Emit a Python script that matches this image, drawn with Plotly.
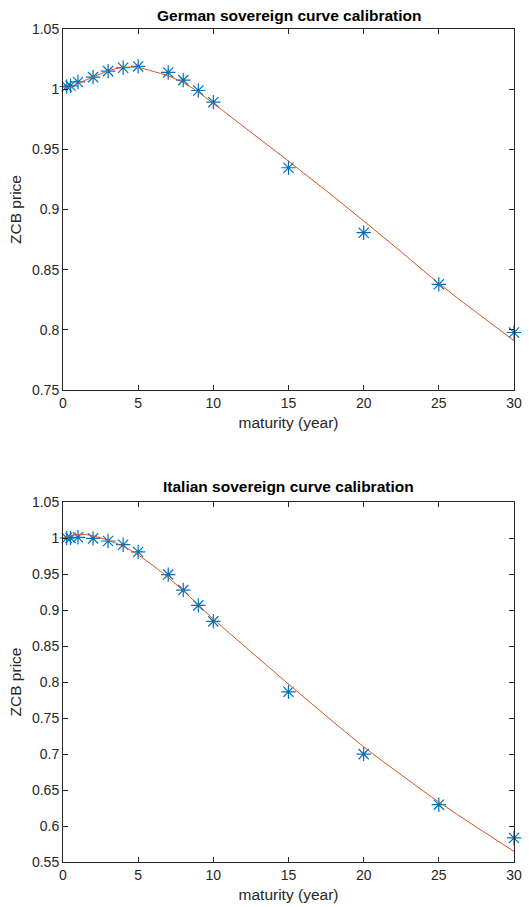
import plotly.graph_objects as go

# ---------------- data ----------------
maturities = [0.25, 0.5, 1, 2, 3, 4, 5, 7, 8, 9, 10, 15, 20, 25, 30]

german_zcb = [1.0022, 1.0028, 1.0060, 1.0100, 1.0150, 1.0178, 1.0189, 1.0139,
              1.0075, 0.9989, 0.9892, 0.9347, 0.8807, 0.8378, 0.7978]
italian_zcb = [1.0000, 1.0000, 1.0010, 0.9995, 0.9958, 0.9907, 0.9806, 0.9492,
               0.9277, 0.9064, 0.8842, 0.7864, 0.6998, 0.6296, 0.5834]

curve_t = [0, 0.5, 1, 1.5, 2, 2.5, 3, 3.5, 4, 4.5, 5, 6, 7, 8, 9, 10,
           12.5, 15, 17.5, 20, 22.5, 25, 27.5, 30]
german_fit = [1.0017, 1.0018, 1.0048, 1.0075, 1.0100, 1.0128, 1.0152, 1.0170,
              1.0180, 1.0184, 1.0180, 1.0148, 1.0110, 1.0055, 0.9975, 0.9882,
              0.9642, 0.9402, 0.9157, 0.8905, 0.8648, 0.8385, 0.8145, 0.7910]
italian_fit = [1.0000, 1.0035, 1.0050, 1.0048, 1.0030, 1.0003, 0.9968, 0.9930,
               0.9885, 0.9828, 0.9765, 0.9615, 0.9450, 0.9268, 0.9070, 0.8875,
               0.8420, 0.7970, 0.7530, 0.7100, 0.6710, 0.6333, 0.5985, 0.5648]

x_ticks = [0, 5, 10, 15, 20, 25, 30]
top_yticks = [0.75, 0.8, 0.85, 0.9, 0.95, 1.0, 1.05]
top_ylabels = ["0.75", "0.8", "0.85", "0.9", "0.95", "1", "1.05"]
bot_yticks = [0.55, 0.6, 0.65, 0.7, 0.75, 0.8, 0.85, 0.9, 0.95, 1.0, 1.05]
bot_ylabels = ["0.55", "0.6", "0.65", "0.7", "0.75", "0.8", "0.85", "0.9", "0.95", "1", "1.05"]

titles = ["German sovereign curve calibration", "Italian sovereign curve calibration"]
x_title = "maturity (year)"
y_title = "ZCB price"

# ---------------- styling ----------------
BLUE = "#0072BD"
ORANGE = "#D95319"
AX = "#262626"
FONT = "Liberation Sans, Arial, sans-serif"

W, H = 529, 907
L, R, T, B = 63, 15, 29, 45
plot_h = H - T - B


def py(px):
    return (H - B - px) / plot_h


fig = go.Figure()

marker = dict(symbol="asterisk-open", size=12, color=BLUE,
              line=dict(color=BLUE, width=1.2))

fig.add_trace(go.Scatter(x=maturities, y=german_zcb, mode="markers",
                         marker=marker, cliponaxis=False,
                         xaxis="x", yaxis="y", showlegend=False))
fig.add_trace(go.Scatter(x=curve_t, y=german_fit, mode="lines",
                         line=dict(color=ORANGE, width=1, shape="spline"),
                         xaxis="x", yaxis="y", showlegend=False))
fig.add_trace(go.Scatter(x=maturities, y=italian_zcb, mode="markers",
                         marker=marker, cliponaxis=False,
                         xaxis="x2", yaxis="y2", showlegend=False))
fig.add_trace(go.Scatter(x=curve_t, y=italian_fit, mode="lines",
                         line=dict(color=ORANGE, width=1, shape="spline"),
                         xaxis="x2", yaxis="y2", showlegend=False))

common = dict(showline=True, linecolor=AX, linewidth=1, mirror="ticks",
              ticks="inside", ticklen=5, tickcolor=AX, tickwidth=1,
              showgrid=False, zeroline=False, automargin=False,
              tickfont=dict(family=FONT, size=14, color=AX))

xt = dict(text=x_title, font=dict(family=FONT, size=15.5, color=AX), standoff=7)
yt = dict(text=y_title, font=dict(family=FONT, size=15.5, color=AX), standoff=6)

fig.update_layout(
    width=W, height=H,
    margin=dict(l=L, r=R, t=T, b=B),
    paper_bgcolor="white", plot_bgcolor="white",
    xaxis=dict(domain=[0, 1], anchor="y", range=[0, 30], tickvals=x_ticks,
               title=xt, **common),
    yaxis=dict(domain=[py(390), 1], anchor="x", range=[0.75, 1.05],
               tickvals=top_yticks, ticktext=top_ylabels, title=yt, **common),
    xaxis2=dict(domain=[0, 1], anchor="y2", range=[0, 30], tickvals=x_ticks,
                title=xt, **common),
    yaxis2=dict(domain=[0, py(502)], anchor="x2", range=[0.55, 1.05],
                tickvals=bot_yticks, ticktext=bot_ylabels, title=yt, **common),
    annotations=[
        dict(text="<b>%s</b>" % titles[0], x=0.5, y=py(15), xref="paper",
             yref="paper", xanchor="center", yanchor="middle", showarrow=False,
             font=dict(family=FONT, size=15.5, color="black")),
        dict(text="<b>%s</b>" % titles[1], x=0.5, y=py(487), xref="paper",
             yref="paper", xanchor="center", yanchor="middle", showarrow=False,
             font=dict(family=FONT, size=15.5, color="black")),
    ],
)

fig.write_html("out.html",
               config={"displayModeBar": False},
               post_script="document.body.style.margin='0';"
                           "document.body.style.overflow='hidden';")
